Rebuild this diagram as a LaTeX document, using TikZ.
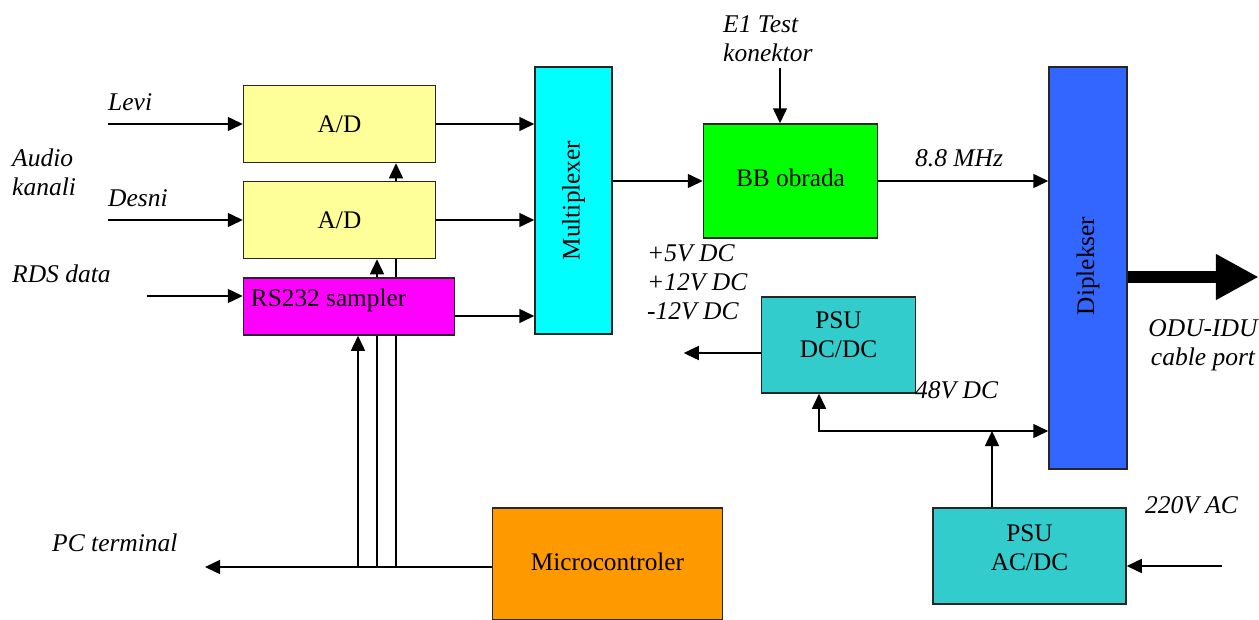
\documentclass[tikz,border=0pt]{standalone}
\usepackage{fontspec}
\setmainfont{Liberation Serif}
\usetikzlibrary{arrows.meta,backgrounds}
\definecolor{adyel}{HTML}{FFFF99}
\definecolor{rsmag}{HTML}{FF00FF}
\definecolor{muxcyan}{HTML}{00FFFF}
\definecolor{bbgreen}{HTML}{00FF00}
\definecolor{dipblue}{HTML}{3366FF}
\definecolor{psuteal}{HTML}{33CCCC}
\definecolor{mcorange}{HTML}{FF9900}
\begin{document}
\begin{tikzpicture}[x=1pt,y=-1pt,
  box/.style={draw=black!85, line width=1.5pt, inner sep=0pt, font=\fontsize{25.3}{29}\selectfont},
  txt/.style={inner sep=0pt, align=center, font=\fontsize{25.3}{29}\selectfont},
  lbl/.style={inner sep=0pt, align=left, font=\fontsize{25.5}{29}\selectfont\itshape},
  arr/.style={line width=1.5pt, -{Triangle[length=15pt,width=14pt]}},
  arrboth/.style={line width=1.5pt, {Triangle[length=15pt,width=14pt]}-{Triangle[length=15pt,width=14pt]}}]
\useasboundingbox (0,0) rectangle (1259,619);

% boxes
\node[box, fill=adyel, minimum width=192pt, minimum height=77pt] (ad1) at (339.5,124) {A/D};
\node[box, fill=adyel, minimum width=192pt, minimum height=77pt] (ad2) at (339.5,220) {A/D};
\node[box, fill=rsmag, minimum width=211pt, minimum height=57pt] (rs) at (349,306.5) {};
\node[txt, anchor=west] at ([xshift=8pt,yshift=6pt]rs.west) {RS232 sampler};
\node[box, fill=muxcyan, minimum width=77pt, minimum height=267pt] (mux) at (573.5,200.5) {};
\node[txt, rotate=90] at (mux.center) {Multiplexer};
\node[box, fill=bbgreen, minimum width=174pt, minimum height=114pt] (bb) at (790.5,181) {};
\node[txt] at ([yshift=3pt]bb.center) {BB obrada};
\node[box, fill=dipblue, minimum width=78pt, minimum height=402pt] (dip) at (1088,268) {};
\node[txt, rotate=90] at ([yshift=2pt]dip.center) {Diplekser};
\node[box, fill=psuteal, minimum width=154pt, minimum height=96pt] (psu1) at (838.5,345) {};
\node[txt] at ([yshift=10pt]psu1.center) {PSU\\DC/DC};
\node[box, fill=psuteal, minimum width=193pt, minimum height=96pt] (psu2) at (1029.5,556) {};
\node[txt] at ([yshift=8pt]psu2.center) {PSU\\AC/DC};
\node[box, fill=mcorange, minimum width=230pt, minimum height=112pt] (mc) at (607.5,564) {};
\node[txt] at ([yshift=2pt]mc.center) {Microcontroler};

% control lines from the microcontroller (behind boxes)
\coordinate (pc) at (205,567);
\coordinate (v1) at (358,567);
\coordinate (v2) at (377,567);
\coordinate (v3) at (396,567);
\begin{scope}[on background layer]
\fill[white] (0,0) rectangle (1259,619);
\draw[arr] (v1) -- (v1 |- rs.south);
\draw[arr] (v2) -- (v2 |- ad2.south);
\draw[arr] (v3) -- (v3 |- ad1.south);
\end{scope}
\draw[arr] ([yshift=-3pt]mc.west) -- (pc);

% inputs
\coordinate (levi) at (108,124);
\coordinate (desni) at (108,220);
\coordinate (rds) at (147,296);
\draw[arr] (levi) -- (levi -| ad1.west);
\draw[arr] (desni) -- (desni -| ad2.west);
\draw[arr] (rds) -- (rds -| rs.west);

% to multiplexer
\draw[arr] (ad1.east) -- (ad1.east -| mux.west);
\draw[arr] (ad2.east) -- (ad2.east -| mux.west);
\coordinate (rso) at ([yshift=-9.5pt]rs.east);
\draw[arr] (rso) -- (rso -| mux.west);

% multiplexer -> BB -> diplekser
\draw[arr] (mux.east |- bb.west) -- (bb.west);
\draw[arr] (bb.east) -- (bb.east -| dip.west);
\coordinate (e1) at (780,68);
\draw[arr] (e1) -- (e1 |- bb.north);

% power
\coordinate (dco) at ([yshift=-8pt]psu1.west);
\draw[arr] (dco) -- ++(-77,0);
\coordinate (p48) at (819,431);
\coordinate (j) at (992,431);
\draw[arrboth] (p48 |- psu1.south) -- (p48) -- (p48 -| dip.west);
\draw[arr] (j |- psu2.north) -- (j);
\coordinate (ac) at (1222,566);
\draw[arr] (ac) -- (ac -| psu2.east);

% big output arrow
\draw[line width=12pt, -{Triangle[length=43pt,width=43pt]}] ([yshift=-9pt]dip.east) -- ++(131,0);

% labels
\node[lbl, anchor=west] at (108,102) {Levi};
\node[lbl, anchor=west] at (108,198) {Desni};
\node[lbl, anchor=west] at (12,172) {Audio\\kanali};
\node[lbl, anchor=west] at (12,274) {RDS data};
\node[lbl, anchor=west] at (723,38.5) {E1 Test\\konektor};
\node[lbl, anchor=west] at (915,158) {8.8 MHz};
\node[lbl, anchor=west] at (647,282) {+5V DC\\+12V DC\\-12V DC};
\node[lbl, anchor=west] at (915,390) {48V DC};
\node[lbl, anchor=west] at (1145,505) {220V AC};
\node[lbl, align=center] at (1203,345.5) {ODU-IDU\\cable port};
\node[lbl, anchor=west] at (52,543) {PC terminal};
\end{tikzpicture}
\end{document}
